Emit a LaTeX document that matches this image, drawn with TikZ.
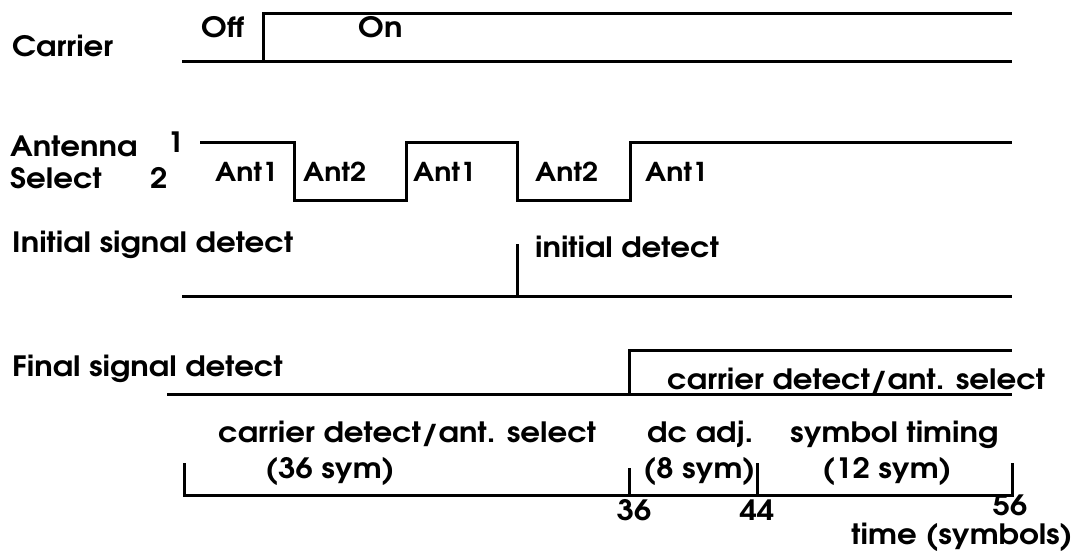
\documentclass[tikz,border=0pt]{standalone}
\usepackage{fontspec}
\setmainfont{texgyreadventor-bold.otf}[FakeStretch=1.1]

\begin{document}
\begin{tikzpicture}[
    x=1pt, y=-1pt,
    sig/.style={line width=3pt, line join=miter},
    lbl/.style={anchor=base west, inner sep=0pt, font=\fontsize{28}{30}\selectfont},
    antlbl/.style={lbl, font=\fontsize{26}{28}\selectfont},
    tick/.style={lbl, anchor=base},
  ]
    \useasboundingbox (0,0) rectangle (1075,556);

    % Row labels -------------------------------------------------------------
    \node[lbl] (carrier) at (12,57)  {Carrier};
    \node[lbl] (antenna) at (10,157) {Antenna};
    \node[lbl] (one)     at (167,153) {1};
    \node[lbl] (select)  at (10,189) {Select};
    \node[lbl] (two)     at (150,189) {2};
    \node[lbl] (initial) at (12,252) {Initial signal detect};
    \node[lbl] (final)   at (12,376) {Final signal detect};

    % Carrier ----------------------------------------------------------------
    \draw[sig] (182,62) -- (263,62) -- (263,14) -- (1012,14);
    \draw[sig] (263,62) -- (1012,62);
    \node[lbl] (off) at (201,38) {Off};
    \node[lbl] (on)  at (358,38) {On};

    % Antenna select ---------------------------------------------------------
    \draw[sig] (200,143) -- (294,143) -- (294,200) -- (406,200) -- (406,143)
               -- (517,143) -- (517,200) -- (630,200) -- (630,143) -- (1012,143);
    \node[antlbl] (ant1a) at (215,182) {Ant1};
    \node[antlbl] (ant2a) at (303,182) {Ant2};
    \node[antlbl] (ant1b) at (413,182) {Ant1};
    \node[antlbl] (ant2b) at (535,182) {Ant2};
    \node[antlbl] (ant1c) at (645,182) {Ant1};

    % Initial signal detect --------------------------------------------------
    \draw[sig] (182,296) -- (1012,296);
    \draw[sig] (517,296) -- (517,244);
    \node[lbl] (initdet) at (535,257) {initial detect};

    % Final signal detect ----------------------------------------------------
    \draw[sig] (167,394) -- (1012,394);
    \draw[sig] (629,394) -- (629,350) -- (1012,350);
    \node[lbl] (carrdet) at (667,389) {carrier detect/ant. select};

    % Time bracket -----------------------------------------------------------
    \draw[sig] (184,463) -- (184,495) -- (1012,495) -- (1012,463);
    \draw[sig] (629,468) -- (629,495);
    \draw[sig] (757,463) -- (757,495);
    \node[lbl] (cds)    at (218,442) {carrier detect/ant. select};
    \node[lbl] (cdsn)   at (265,478) {(36 sym)};
    \node[lbl] (dcadj)  at (647,442) {dc adj.};
    \node[lbl] (dcadjn) at (643,478) {(8 sym)};
    \node[lbl] (symt)   at (790,442) {symbol timing};
    \node[lbl] (symtn)  at (822,478) {(12 sym)};
    \node[tick] (t36)   at (634,520) {36};
    \node[tick] (t44)   at (757,520) {44};
    \node[tick] (t56)   at (1010,515) {56};
    \node[lbl, anchor=base east] (tunit) at (1073,544) {time (symbols)};
  \end{tikzpicture}
\end{document}
